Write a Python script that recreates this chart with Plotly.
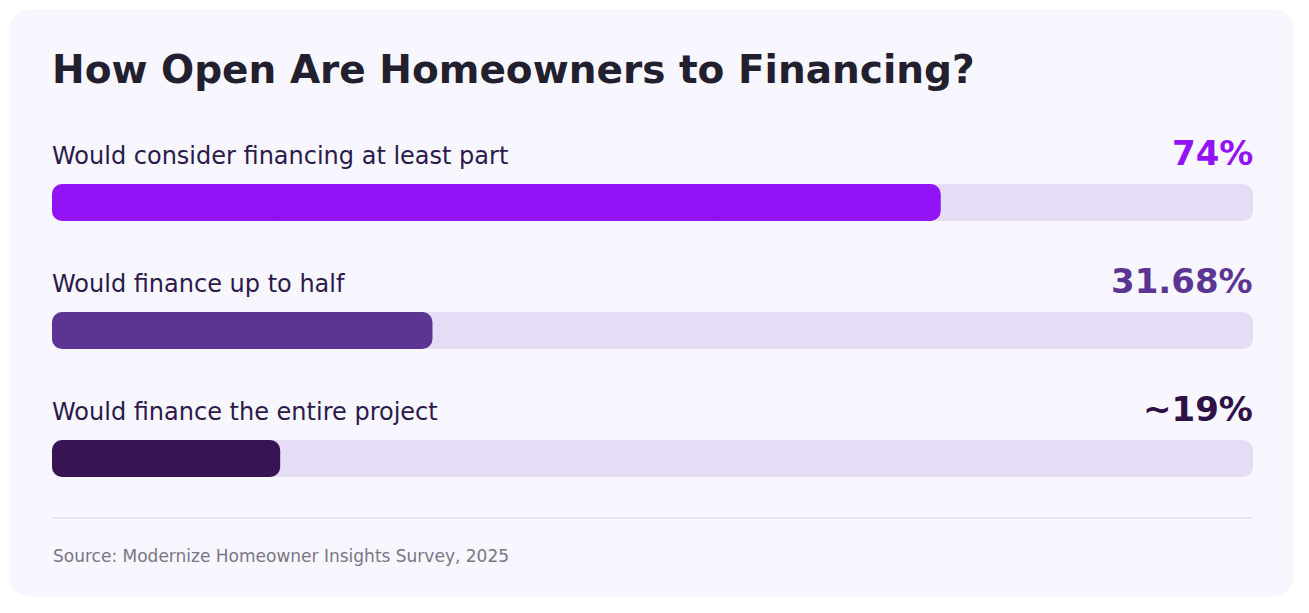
import plotly.graph_objects as go

# page body has an 8px margin, so the figure is drawn 8px in from the window edge
PAGE_OFFSET = 8
W, H = 1309 - 2 * PAGE_OFFSET, 613 - 2 * PAGE_OFFSET

categories = [
    "Would consider financing at least part",
    "Would finance up to half",
    "Would finance the entire project",
]
values = [74, 31.68, 19]
value_labels = ["74%", "31.68%", "~19%"]
bar_colors = ["#9213f5", "#5c3494", "#371453"]
text_colors = ["#9213f5", "#5c3494", "#2e1145"]
track_max = 100

TITLE = "How Open Are Homeowners to Financing?"
SOURCE = "Source: Modernize Homeowner Insights Survey, 2025"
FONT = "DejaVu Sans, Verdana, sans-serif"

# window-pixel layout of the bar track: 0% at x=52px, 100% at x=1253px
X0, X1 = 52 - PAGE_OFFSET, 1253 - PAGE_OFFSET
PX_PER_UNIT = (X1 - X0) / track_max
ROW0_Y, ROW_STEP, BAR_H = 202.5 - PAGE_OFFSET, 128, 37


def px(x, y):
    """window pixel -> paper coords (margins are zero, so paper == plot area)."""
    return (x - PAGE_OFFSET) / W, 1 - (y - PAGE_OFFSET) / H


def rounded_rect(x0, y0, x1, y1, r):
    def p(x, y):
        a, b = px(x, y)
        return f"{a:.5f},{b:.5f}"

    return " ".join([
        f"M{p(x0 + r, y0)}",
        f"L{p(x1 - r, y0)}",
        f"Q{p(x1, y0)} {p(x1, y0 + r)}",
        f"L{p(x1, y1 - r)}",
        f"Q{p(x1, y1)} {p(x1 - r, y1)}",
        f"L{p(x0 + r, y1)}",
        f"Q{p(x0, y1)} {p(x0, y1 - r)}",
        f"L{p(x0, y0 + r)}",
        f"Q{p(x0, y0)} {p(x0 + r, y0)}",
        "Z",
    ])


def pill(vals, color, hover):
    """Rounded both ends: two rounded half bars grown out from the midpoint,
    plus a square bar over the middle to hide the inner rounded corners."""
    half = [v / 2 for v in vals]
    quarter = [v / 4 for v in vals]
    parts = [
        (half, [-h for h in half], 10),
        (half, half, 10),
        (quarter, half, 0),
    ]
    out = []
    for base, length, radius in parts:
        out.append(
            go.Bar(
                y=categories,
                x=length,
                base=base,
                orientation="h",
                width=BAR_H / ROW_STEP,
                marker=dict(color=color, cornerradius=radius, line=dict(width=0)),
                customdata=vals,
                hovertemplate="%{y}: %{customdata}%<extra></extra>" if hover else None,
                hoverinfo=None if hover else "skip",
            )
        )
    return out


fig = go.Figure()
for tr in pill([track_max] * len(categories), "#e6dcf5", False):
    fig.add_trace(tr)
for tr in pill(values, bar_colors, True):
    fig.add_trace(tr)

annotations = [
    dict(
        text=f"<b>{TITLE}</b>",
        xref="paper", yref="paper",
        x=px(50, 0)[0], y=px(0, 70)[1],
        xanchor="left", yanchor="middle", showarrow=False,
        font=dict(family=FONT, size=39, color="#22202e"),
    ),
    dict(
        text=SOURCE,
        xref="paper", yref="paper",
        x=px(51, 0)[0], y=px(0, 556)[1],
        xanchor="left", yanchor="middle", showarrow=False,
        font=dict(family=FONT, size=17, color="#7a7585"),
    ),
]
for cat, lab, col in zip(categories, value_labels, text_colors):
    annotations.append(
        dict(
            text=cat, x=0, y=cat, xref="x", yref="y",
            xanchor="left", yanchor="middle", yshift=47, xshift=-2, showarrow=False,
            font=dict(family=FONT, size=24, color="#2b1a4a"),
        )
    )
    annotations.append(
        dict(
            text=f"<b>{lab}</b>", x=track_max, y=cat, xref="x", yref="y",
            xanchor="right", yanchor="middle", yshift=50, xshift=2, showarrow=False,
            font=dict(family=FONT, size=34, color=col),
        )
    )

shapes = [
    dict(
        type="path", xref="paper", yref="paper",
        path=rounded_rect(9, 9, 1294, 597, 25),
        fillcolor="#f8f6fe", line=dict(width=0), layer="below",
    ),
    dict(
        type="line", xref="paper", yref="paper",
        x0=px(52, 0)[0], x1=px(1253, 0)[0],
        y0=px(0, 518)[1], y1=px(0, 518)[1],
        line=dict(color="#dcd7e6", width=1),
    ),
]

fig.update_layout(
    width=W,
    height=H,
    margin=dict(l=0, r=0, t=0, b=0),
    paper_bgcolor="#ffffff",
    plot_bgcolor="rgba(0,0,0,0)",
    barmode="overlay",
    showlegend=False,
    xaxis=dict(
        range=[-X0 / PX_PER_UNIT, (W - X0) / PX_PER_UNIT],
        visible=False, fixedrange=True,
    ),
    yaxis=dict(
        type="category",
        categoryorder="array",
        categoryarray=categories,
        range=[(H - ROW0_Y) / ROW_STEP, -ROW0_Y / ROW_STEP],
        visible=False, fixedrange=True,
    ),
    annotations=annotations,
    shapes=shapes,
)

fig.write_html("out.html", config={"displayModeBar": False})
